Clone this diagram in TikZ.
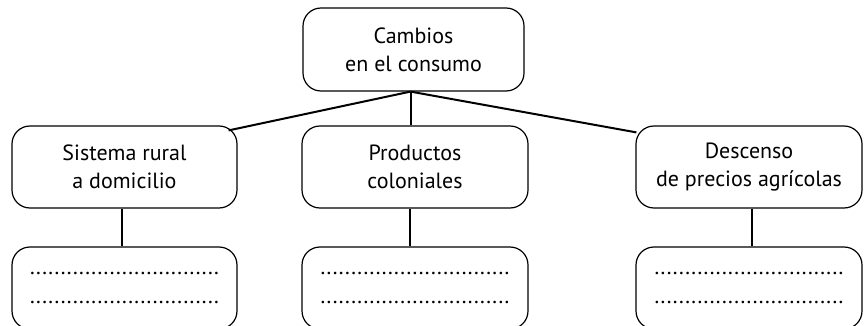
\documentclass[tikz,border=0pt]{standalone}
\usepackage{fontspec}
\setmainfont{PT Sans}
\usetikzlibrary{calc}
\begin{document}
\begin{tikzpicture}[x=1pt,y=1pt,
  box/.style={draw=black, line width=1.2pt, rounded corners=18pt, minimum height=82pt,
    align=center, font=\fontsize{22}{28}\selectfont, inner sep=0pt},
  dots/.style={box, font=\fontsize{22}{29}\selectfont},
  conn/.style={line width=2pt}]
\useasboundingbox (0,0) rectangle (865,-326);
\clip (0,0) rectangle (865,-326);
\node[box, minimum width=221pt, minimum height=83pt] (top) at (413.5,-49.5) {Cambios\\en el consumo};
\node[box, minimum width=225pt] (left) at (124.5,-167) {Sistema rural\\a domicilio};
\node[box, minimum width=226pt] (mid) at (415,-167) {Productos\\coloniales};
\node[box, minimum width=226pt] (right) at (749,-167) {Descenso\\de precios agrícolas};
\node[dots, minimum width=225pt] (leftd) at (124.5,-288) {...............................\\...............................};
\node[dots, minimum width=226pt] (midd) at (415,-288) {...............................\\...............................};
\node[dots, minimum width=226pt] (rightd) at (749,-288) {...............................\\...............................};
\coordinate (j) at ($(top.south)+(-3,0)$);
\draw[conn] (j) -- ($(left.north east)+(-9,-5)$);
\draw[conn] (j) -- ($(right.north west)+(1,-7)$);
\draw[conn] (j) -- (j |- mid.north);
\draw[conn] ([xshift=-3pt]left.south) -- ([xshift=-3pt]leftd.north);
\draw[conn] ([xshift=-5pt]mid.south) -- ([xshift=-5pt]midd.north);
\draw[conn] ([xshift=3pt]right.south) -- ([xshift=3pt]rightd.north);
\end{tikzpicture}
\end{document}
